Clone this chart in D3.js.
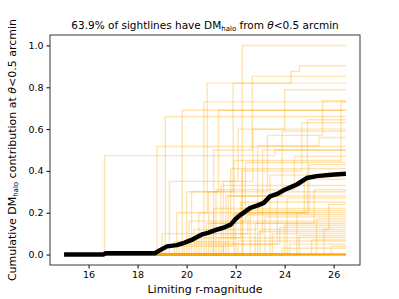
<!DOCTYPE html>
<html>
<head>
<meta charset="utf-8">
<script src="https://cdn.jsdelivr.net/npm/d3@7"></script>
<style>
  body { margin: 0; background: #fff; }
  text { font-family: "DejaVu Sans", sans-serif; }
</style>
</head>
<body>
<svg id="chart" width="399" height="299"></svg>
<script>
// tick values
var xTicks = [16, 18, 20, 22, 24, 26];
var yTicks = [0.0, 0.2, 0.4, 0.6, 0.8, 1.0];
var magStart = 15, magEnd = 26.5;

// each sightline: list of [limiting mag, cumulative value after the jump]
var sightlines = [
  [[16.65, 0.473], [23.6, 0.50]],
  [[18.79, 0.517]],
  [[19.13, 0.66]],
  [[19.82, 0.69]],
  [[20.7, 0.73]],
  [[19.6, 0.2], [20.84, 0.82]],
  [[21.0, 0.15], [22.27, 1.0]],
  [[20.2, 0.3], [21.9, 0.82], [24.25, 0.876], [24.6, 0.903]],
  [[21.1, 0.5], [22.68, 0.852]],
  [[21.5, 0.35], [22.7, 0.6], [24.0, 0.788]],
  [[20.9, 0.3], [23.3, 0.57], [25.55, 0.736]],
  [[21.93, 0.45], [26.3, 0.73]],
  [[20.0, 0.3], [21.3, 0.69]],
  [[20.5, 0.2], [24.93, 0.645]],
  [[22.27, 0.4], [24.7, 0.63]],
  [[19.3, 0.35], [22.1, 0.6]],
  [[21.6, 0.28], [23.9, 0.59]],
  [[20.3, 0.12], [22.9, 0.52], [25.4, 0.56]],
  [[19.0, 0.10], [23.1, 0.50]],
  [[21.2, 0.31], [24.4, 0.47]],
  [[20.1, 0.16], [22.4, 0.44]],
  [[22.0, 0.2], [25.0, 0.43]],
  [[19.5, 0.06], [21.8, 0.41]],
  [[23.4, 0.38]],
  [[20.6, 0.1], [22.5, 0.2], [24.8, 0.36]],
  [[21.4, 0.33]],
  [[22.8, 0.15], [25.2, 0.31]],
  [[19.9, 0.05], [23.7, 0.30]],
  [[21.7, 0.28]],
  [[24.1, 0.27]],
  [[20.4, 0.08], [22.2, 0.25]],
  [[23.0, 0.12], [25.8, 0.24]],
  [[21.1, 0.22]],
  [[22.6, 0.21]],
  [[24.5, 0.20]],
  [[19.7, 0.04], [21.9, 0.19]],
  [[23.2, 0.18]],
  [[25.3, 0.17]],
  [[22.3, 0.16]],
  [[20.8, 0.15]],
  [[24.0, 0.14]],
  [[21.5, 0.05], [23.8, 0.13]],
  [[25.6, 0.12]],
  [[22.9, 0.11]],
  [[23.5, 0.10]],
  [[24.6, 0.09]],
  [[21.3, 0.08]],
  [[25.1, 0.07]],
  [[22.1, 0.065]],
  [[24.2, 0.05]],
  [[25.9, 0.04]],
  [[23.9, 0.03]],
  [], [], [], [], [], [], [], [], [], [], [], []
];

// mean curve (black)
var meanMag = [15, 16.6, 16.7, 18.7, 18.9, 19.2, 19.6, 19.9, 20.2, 20.6, 20.9, 21.25, 21.5, 21.8, 22.0, 22.2, 22.6, 22.9, 23.15, 23.4, 23.7, 24.0, 24.3, 24.5, 24.9, 25.3, 25.9, 26.5];
var meanVal = [0, 0, 0.006, 0.006, 0.02, 0.039, 0.045, 0.056, 0.07, 0.095, 0.105, 0.12, 0.128, 0.143, 0.17, 0.19, 0.223, 0.235, 0.247, 0.278, 0.29, 0.31, 0.325, 0.335, 0.366, 0.375, 0.382, 0.386];

var margin = { top: 35, right: 39, bottom: 34, left: 50 };
var width = 399 - margin.left - margin.right;
var height = 299 - margin.top - margin.bottom;

var svg = d3.select("#chart");
var g = svg.append("g").attr("transform", `translate(${margin.left}, ${margin.top})`);

var x = d3.scaleLinear().domain([14.425, 27.075]).range([0, width]);
var y = d3.scaleLinear().domain([-0.05, 1.05]).range([height, 0]);

function toPoints(steps) {
  var pts = [[magStart, 0]];
  steps.forEach(s => pts.push(s));
  pts.push([magEnd, steps.length ? steps[steps.length - 1][1] : 0]);
  return pts;
}

var stepLine = d3.line()
  .x(d => x(d[0]))
  .y(d => y(d[1]))
  .curve(d3.curveStepAfter);

g.selectAll("path.sight")
  .data(sightlines)
  .join("path")
  .attr("class", "sight")
  .attr("d", d => stepLine(toPoints(d)))
  .attr("fill", "none")
  .attr("stroke", "orange")
  .attr("stroke-opacity", 0.3)
  .attr("stroke-width", 1.4);

var meanLine = d3.line()
  .x(d => x(d[0]))
  .y(d => y(d[1]));

g.append("path")
  .attr("d", meanLine(meanMag.map((m, i) => [m, meanVal[i]])))
  .attr("fill", "none")
  .attr("stroke", "black")
  .attr("stroke-width", 4.5)
  .attr("stroke-linejoin", "round");

// axes
var xAxis = g.append("g")
  .attr("transform", `translate(0, ${height})`)
  .call(d3.axisBottom(x).tickValues(xTicks).tickSize(3.5).tickPadding(3).tickFormat(d3.format("d")));
var yAxis = g.append("g")
  .call(d3.axisLeft(y).tickValues(yTicks).tickSize(3.5).tickPadding(3).tickFormat(d3.format(".1f")));
[xAxis, yAxis].forEach(a => {
  a.selectAll("text").style("font-size", "9.5px").attr("fill", "#000");
  a.select(".domain").remove();
});

// frame
g.append("rect")
  .attr("width", width).attr("height", height)
  .attr("fill", "none").attr("stroke", "#222").attr("stroke-width", 0.9);

// title
var title = svg.append("text")
  .attr("x", margin.left + width / 2)
  .attr("y", 29)
  .attr("text-anchor", "middle")
  .style("font-size", "10.5px");
title.append("tspan").text("63.9% of sightlines have DM");
title.append("tspan").attr("dy", 2).style("font-size", "7px").text("halo");
title.append("tspan").attr("dy", -2).text(" from  ");
title.append("tspan").style("font-style", "italic").text("θ");
title.append("tspan").text("<0.5 arcmin");

// x label
svg.append("text")
  .attr("x", margin.left + width / 2)
  .attr("y", 293)
  .attr("text-anchor", "middle")
  .style("font-size", "11px")
  .text("Limiting r-magnitude");

// y label
var ylab = svg.append("text")
  .attr("transform", `translate(16, ${margin.top + height / 2}) rotate(-90)`)
  .attr("text-anchor", "middle")
  .style("font-size", "11px");
ylab.append("tspan").text("Cumulative DM");
ylab.append("tspan").attr("dy", 2).style("font-size", "7px").text("halo");
ylab.append("tspan").attr("dy", -2).text(" contribution at ");
ylab.append("tspan").style("font-style", "italic").text("θ");
ylab.append("tspan").text("<0.5 arcmin");
</script>
</body>
</html>
